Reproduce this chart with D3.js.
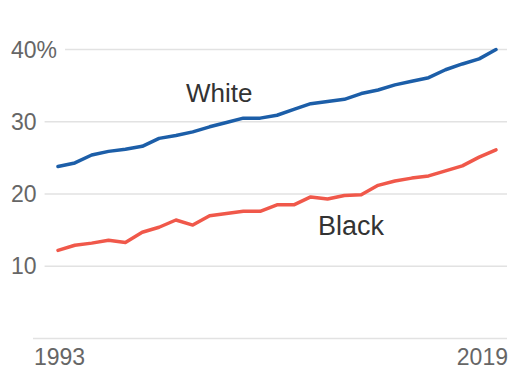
<!DOCTYPE html>
<html>
<head>
<meta charset="utf-8">
<script src="https://cdn.jsdelivr.net/npm/d3@7"></script>
<style>
  html, body { margin: 0; padding: 0; background: #fff; }
  svg { display: block; font-family: "Liberation Sans", Arial, sans-serif; }
</style>
</head>
<body>
<svg id="chart" width="514" height="370"></svg>
<script>
// Share of adults with a bachelor's degree, by race
const years = d3.range(1993, 2020);
const white = [23.8, 24.3, 25.4, 25.9, 26.2, 26.6, 27.7, 28.1, 28.6, 29.3, 29.9, 30.5, 30.5,
               30.9, 31.7, 32.5, 32.8, 33.1, 33.9, 34.4, 35.1, 35.6, 36.1, 37.2, 38.0, 38.7, 40.0];
const black = [12.2, 12.9, 13.2, 13.6, 13.3, 14.7, 15.4, 16.4, 15.7, 17.0, 17.3, 17.6, 17.6,
               18.5, 18.5, 19.6, 19.3, 19.8, 19.9, 21.2, 21.8, 22.2, 22.5, 23.2, 23.9, 25.1, 26.1];
const yTicks = [0, 10, 20, 30, 40];
const yTickLabels = ["", "10", "20", "30", "40%"];
const xTickLabels = ["1993", "2019"];
const seriesNames = ["White", "Black"];

const svg = d3.select("#chart");
const x = d3.scaleLinear().domain([1993, 2019]).range([58, 496]);
const y = d3.scaleLinear().domain([0, 40]).range([338.5, 49.5]);

const gridLeft = 33, gridRight = 507, labelX = 11;

// Gridlines with their labels; each line begins just after its label
const ticks = svg.append("g");
yTicks.forEach((t, i) => {
  const g = ticks.append("g");
  const label = g.append("text")
    .attr("x", labelX)
    .attr("y", y(t) + 8)
    .attr("font-size", 23)
    .attr("fill", "#666")
    .text(yTickLabels[i]);
  const w = yTickLabels[i] ? label.node().getComputedTextLength() : 0;
  const start = w ? Math.max(gridLeft, labelX + w + 8) : gridLeft;
  g.insert("line", "text")
    .attr("x1", start).attr("x2", gridRight)
    .attr("y1", y(t)).attr("y2", y(t))
    .attr("stroke", "#e2e2e2")
    .attr("stroke-width", 1.6);
});

// Year labels at both ends of the axis
svg.append("text")
  .attr("x", 34).attr("y", 365)
  .attr("font-size", 23).attr("fill", "#666")
  .text(xTickLabels[0]);
svg.append("text")
  .attr("x", 508).attr("y", 365)
  .attr("text-anchor", "end")
  .attr("font-size", 23).attr("fill", "#666")
  .text(xTickLabels[1]);

const line = d3.line()
  .x((d, i) => x(years[i]))
  .y(d => y(d));

svg.append("path")
  .datum(black)
  .attr("d", line)
  .attr("fill", "none")
  .attr("stroke", "#f0584a")
  .attr("stroke-width", 3.5)
  .attr("stroke-linejoin", "round")
  .attr("stroke-linecap", "round");

svg.append("path")
  .datum(white)
  .attr("d", line)
  .attr("fill", "none")
  .attr("stroke", "#1c5ea8")
  .attr("stroke-width", 3.5)
  .attr("stroke-linejoin", "round")
  .attr("stroke-linecap", "round");

// Series labels
svg.append("text")
  .attr("x", 186).attr("y", 102)
  .attr("font-size", 26).attr("fill", "#333")
  .text(seriesNames[0]);
svg.append("text")
  .attr("x", 318).attr("y", 235)
  .attr("font-size", 27).attr("fill", "#333")
  .text(seriesNames[1]);
</script>
</body>
</html>
